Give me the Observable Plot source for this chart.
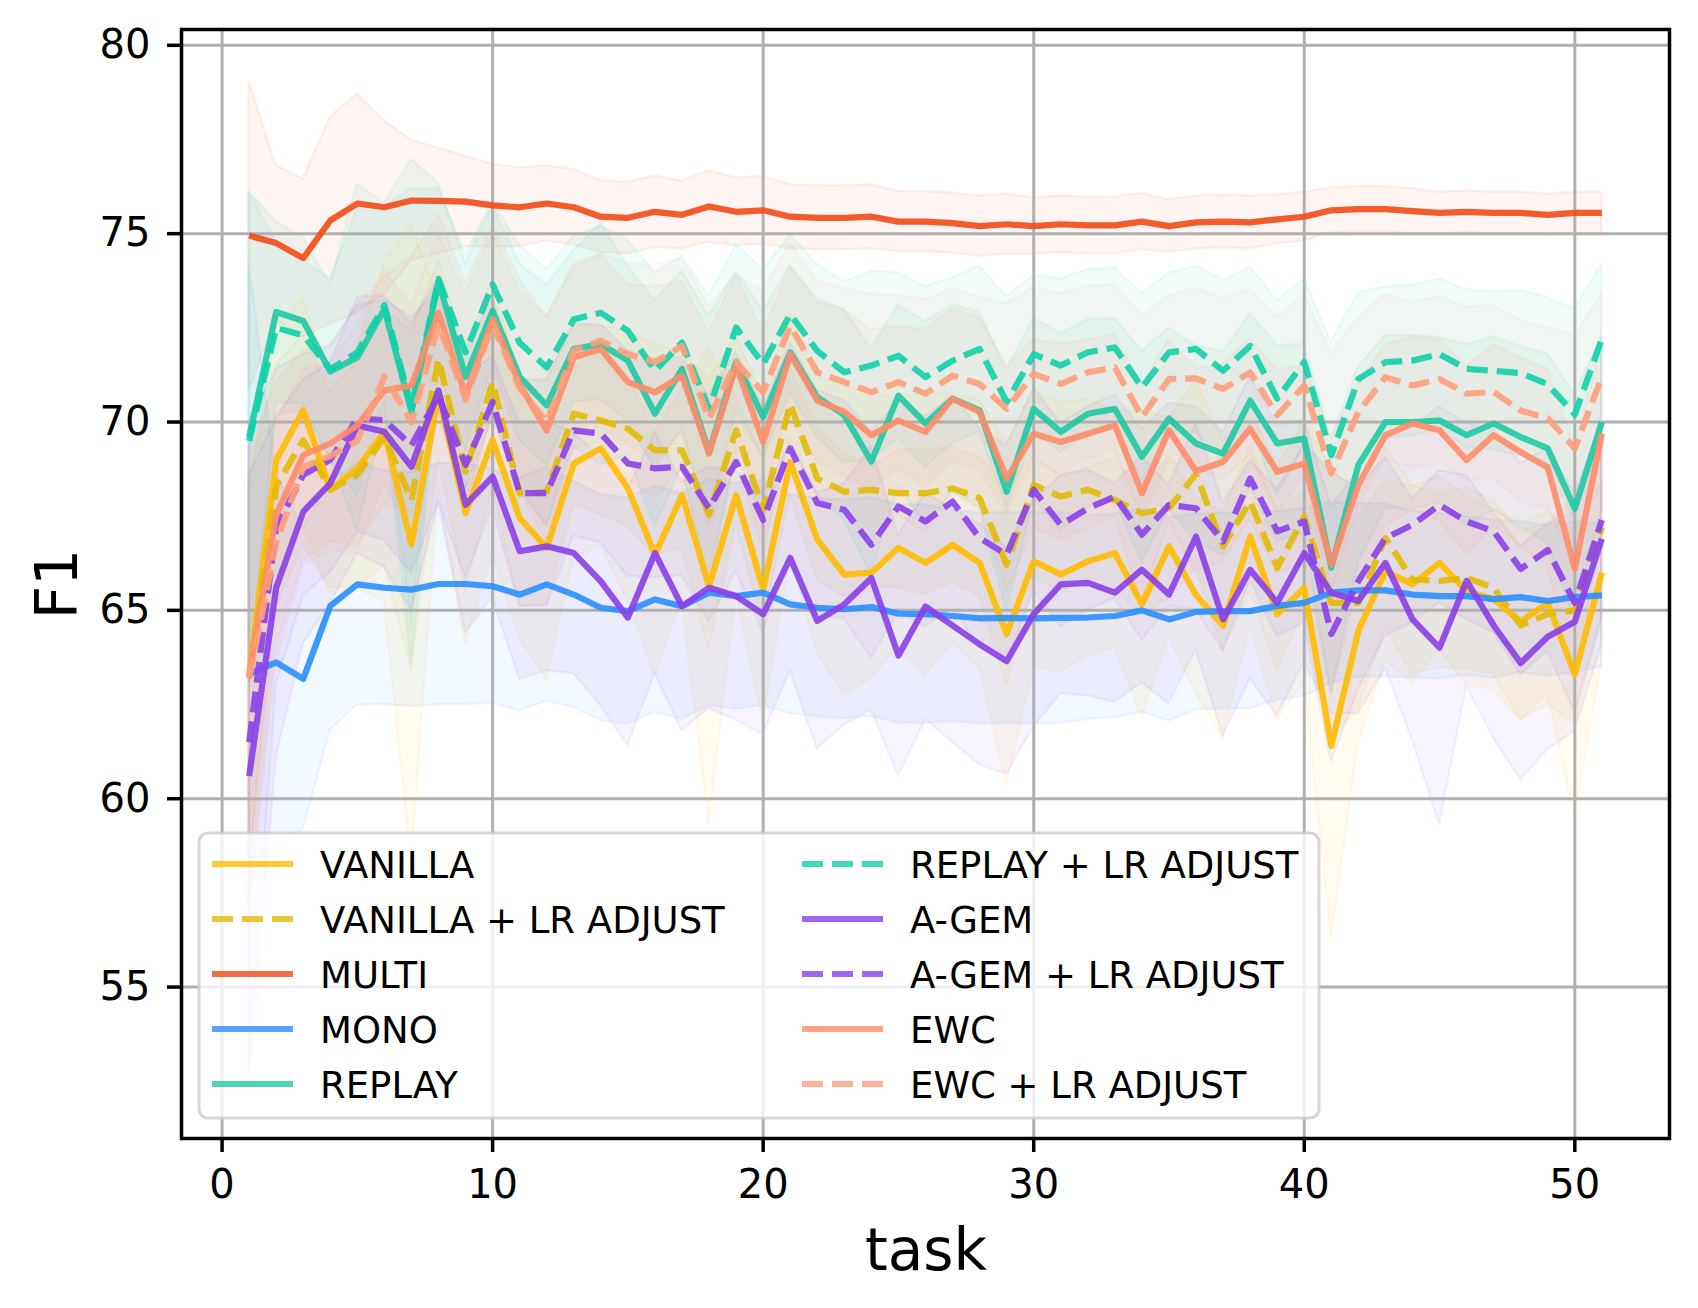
<!DOCTYPE html>
<html><head><meta charset="utf-8">
<script src="https://cdn.jsdelivr.net/npm/d3@7"></script>
<script src="https://cdn.jsdelivr.net/npm/@observablehq/plot@0.6"></script>
<style>
html,body{margin:0;padding:0;background:#fff;}
#chart{position:relative;width:1698px;height:1308px;}
</style></head><body><div id="chart"></div>
<script>
const tasks = [1,2,3,4,5,6,7,8,9,10,11,12,13,14,15,16,17,18,19,20,21,22,23,24,25,26,27,28,29,30,31,32,33,34,35,36,37,38,39,40,41,42,43,44,45,46,47,48,49,50,51];
const xTicks = [0,10,20,30,40,50];
const yTicks = [55,60,65,70,75,80];

const vanilla = [63.27,68.99,70.31,68.2,68.77,69.74,66.74,70.75,67.58,69.52,67.45,66.66,68.9,69.3,68.24,66.48,68.06,65.64,68.06,65.55,68.94,66.88,65.95,66.0,66.66,66.26,66.74,66.26,64.37,66.3,65.95,66.3,66.52,65.16,66.7,65.4,64.59,66.96,64.9,65.6,61.4,64.46,66.04,65.69,66.26,65.51,65.3,64.7,65.2,63.3,66.0];
const vanillaLr = [63.2,68.3,69.52,68.2,68.6,69.6,67.93,71.67,68.68,71.06,68.1,68.15,70.22,70.04,69.82,69.25,69.25,67.54,69.78,67.67,70.48,68.5,68.15,68.2,68.11,68.11,68.24,67.98,66.21,68.33,68.02,68.2,67.93,67.58,67.71,68.62,66.7,67.89,66.13,67.49,65.2,65.2,66.92,65.82,65.78,65.86,65.6,64.6,64.9,65.0,67.2];
const multi = [74.95,74.75,74.35,75.35,75.8,75.7,75.88,75.87,75.85,75.75,75.7,75.8,75.7,75.45,75.42,75.58,75.5,75.72,75.58,75.62,75.45,75.42,75.42,75.45,75.32,75.32,75.28,75.2,75.25,75.2,75.25,75.22,75.22,75.32,75.2,75.3,75.32,75.3,75.38,75.45,75.62,75.65,75.65,75.6,75.55,75.58,75.55,75.55,75.5,75.55,75.55];
const mono = [63.31,63.62,63.18,65.12,65.69,65.6,65.55,65.7,65.7,65.64,65.42,65.69,65.42,65.07,64.98,65.29,65.11,65.47,65.38,65.47,65.16,65.07,65.03,65.09,64.91,64.9,64.85,64.79,64.8,64.79,64.8,64.81,64.85,65.0,64.76,64.96,64.98,64.98,65.12,65.2,65.47,65.53,65.53,65.42,65.38,65.38,65.3,65.35,65.25,65.35,65.4];
const replay = [69.6,72.92,72.68,71.34,71.72,73.0,70.27,73.74,71.2,72.95,71.2,70.44,71.94,72.07,71.63,70.22,71.41,69.2,71.6,70.13,71.85,70.66,70.18,68.95,70.7,69.96,70.62,70.31,68.15,70.35,69.74,70.22,70.35,69.08,70.09,69.43,69.16,70.57,69.43,69.56,66.13,68.86,70.0,70.0,70.04,69.65,69.96,69.6,69.3,67.7,70.0];
const replayLr = [69.5,72.5,72.3,71.4,71.85,73.1,70.4,73.8,71.85,73.65,72.1,71.45,72.73,72.9,72.42,71.36,72.11,70.35,72.51,71.54,72.86,71.89,71.32,71.5,71.76,71.19,71.63,71.94,70.53,71.8,71.5,71.85,71.98,70.92,71.85,71.94,71.36,72.02,70.62,71.59,69.12,71.14,71.59,71.63,71.8,71.41,71.36,71.3,71.0,70.2,72.2];
const agem = [60.6,65.6,67.62,68.37,69.91,69.74,68.81,70.84,67.8,68.55,66.57,66.7,66.52,65.77,64.81,66.52,65.11,65.6,65.38,64.9,66.39,64.72,65.16,65.86,63.8,65.1,64.6,64.1,63.65,64.9,65.69,65.73,65.47,66.08,65.42,66.96,64.76,66.08,65.2,66.52,65.47,65.25,66.26,64.76,64.01,65.78,64.6,63.6,64.3,64.7,66.9];
const agemLr = [61.5,67.2,68.6,69.0,70.09,70.05,69.38,70.7,68.86,70.53,68.11,68.11,69.78,69.69,68.9,68.77,68.81,67.71,68.94,67.4,69.3,67.85,67.67,66.74,67.76,67.36,67.89,66.92,66.48,68.2,67.27,67.71,68.02,67.01,67.8,67.71,66.83,68.5,67.1,67.36,64.37,65.78,66.92,67.27,67.8,67.36,67.1,66.1,66.6,65.2,67.4];
const ewc = [63.27,67.53,69.12,69.43,69.91,70.84,70.97,72.9,70.7,72.73,71.0,69.78,71.72,71.94,71.06,70.79,71.23,69.16,71.5,69.47,71.8,70.57,70.27,69.65,70.04,69.74,70.62,70.27,68.5,69.69,69.47,69.69,69.91,68.11,69.78,68.7,68.94,69.82,68.68,68.9,66.21,68.33,69.65,69.96,69.78,68.99,69.65,69.2,68.8,66.1,69.7];
const ewcLr = [63.2,66.8,68.8,69.1,69.5,71.2,70.0,72.6,70.6,72.6,70.9,70.0,71.9,72.16,71.8,71.59,72.02,70.09,71.59,70.79,72.55,71.32,71.06,70.79,71.06,70.75,71.23,71.01,70.35,71.28,71.01,71.32,71.45,70.13,71.14,71.16,70.88,71.32,70.18,70.97,68.64,70.27,71.19,70.97,71.14,70.75,70.8,70.3,70.1,69.3,71.2];

// standard deviations (shaded bands)
const vanillaStd = [5.0,3.5,3.0,2.8,3.2,4.5,8.5,2.5,3.5,3.0,3.2,3.5,2.5,2.6,3.0,3.2,2.8,6.3,2.6,3.5,2.5,3.0,3.2,2.8,2.6,3.0,2.6,2.8,4.0,2.8,2.6,2.5,2.5,3.0,2.4,2.6,3.0,2.4,2.8,2.5,5.1,3.0,2.4,2.6,2.3,2.5,2.4,2.6,2.4,3.8,2.4];
const vanillaLrStd = [5.2,3.2,2.8,2.6,3.0,3.4,4.5,2.6,3.2,2.8,3.0,3.0,2.4,2.5,2.6,2.8,2.6,3.6,2.5,3.0,2.4,2.7,2.8,2.6,2.5,2.7,2.5,2.6,3.2,2.5,2.5,2.4,2.4,2.7,2.4,2.5,2.8,2.4,2.7,2.5,3.6,2.8,2.4,2.5,2.3,2.4,2.3,2.5,2.4,3.0,2.4];
const multiStd = [4.1,2.05,2.1,2.75,2.9,2.3,1.6,1.4,1.2,1.1,1.05,1.0,1.0,0.95,0.95,0.95,0.9,0.95,0.9,0.9,0.85,0.85,0.85,0.85,0.8,0.8,0.8,0.8,0.8,0.75,0.75,0.75,0.75,0.75,0.7,0.7,0.7,0.7,0.65,0.65,0.6,0.6,0.6,0.6,0.55,0.55,0.55,0.55,0.55,0.55,0.55];
const monoStd = [10.9,5.0,4.0,3.3,3.2,3.1,3.1,3.2,3.2,3.1,3.1,3.1,3.0,3.0,3.0,3.0,3.0,3.0,3.0,3.0,2.9,2.9,2.9,2.9,2.9,2.9,2.8,2.8,2.8,2.8,2.8,2.7,2.7,2.7,2.7,2.6,2.6,2.6,2.5,2.5,2.4,2.3,2.3,2.2,2.2,2.1,2.1,2.0,2.0,2.0,1.9];
const replayStd = [6.5,2.4,2.2,2.3,4.6,2.8,6.7,2.6,3.0,2.8,3.0,3.2,2.6,3.2,2.5,3.0,2.6,3.6,2.4,2.8,2.3,2.6,2.8,3.0,2.4,2.7,2.5,2.6,3.2,2.4,2.6,2.5,2.4,2.8,2.4,2.6,2.7,2.3,2.6,2.5,3.4,2.6,2.3,2.3,2.2,2.4,2.3,2.4,2.5,3.0,2.3];
const replayLrStd = [6.6,2.3,2.0,2.4,3.8,2.6,5.8,2.4,2.6,2.2,2.6,2.6,2.2,2.3,2.4,2.6,2.3,3.0,2.2,2.5,2.1,2.3,2.4,2.5,2.2,2.4,2.2,2.2,2.8,2.1,2.3,2.2,2.1,2.5,2.1,2.2,2.4,2.1,2.6,2.2,3.0,2.3,2.0,2.0,2.0,2.1,2.1,2.2,2.3,2.8,2.0];
const agemStd = [8.0,4.5,3.5,3.2,3.4,3.6,3.8,3.0,3.4,3.2,3.4,3.3,3.2,3.3,3.4,3.2,3.3,3.2,3.3,3.2,3.0,3.4,3.2,3.5,3.2,3.0,3.1,3.2,3.0,3.0,2.9,3.0,2.9,3.0,2.9,3.0,3.1,2.9,3.0,2.9,3.2,3.0,2.8,3.2,4.7,2.8,3.0,3.1,3.0,2.9,2.8];
const agemLrStd = [8.5,4.2,3.2,3.0,3.0,3.2,3.4,2.8,3.0,2.8,3.0,3.0,2.8,2.9,3.0,2.9,2.9,3.0,2.9,3.0,2.8,3.0,2.9,3.0,2.8,2.8,2.8,2.9,2.9,2.7,2.7,2.7,2.7,2.8,2.7,2.7,2.9,2.7,2.8,2.7,3.4,2.9,2.6,2.6,2.6,2.6,2.7,2.8,2.7,2.9,2.6];
const ewcStd = [6.0,3.5,2.8,2.6,3.2,3.0,3.4,2.6,3.0,2.5,2.8,3.0,2.4,2.5,2.6,2.8,2.5,3.2,2.4,2.9,2.3,2.6,2.7,2.8,2.5,2.7,2.4,2.5,3.0,2.5,2.6,2.5,2.4,2.9,2.4,2.7,2.6,2.4,2.7,2.6,3.4,2.7,2.4,2.3,2.4,2.5,2.4,2.5,2.6,3.2,2.4];
const ewcLrStd = [6.2,3.2,2.6,2.5,3.0,2.8,3.1,2.4,2.8,2.4,2.6,2.8,2.3,2.3,2.4,2.6,2.3,3.0,2.3,2.7,2.2,2.4,2.5,2.6,2.3,2.5,2.3,2.3,2.8,2.3,2.4,2.3,2.2,2.7,2.2,2.4,2.4,2.2,2.6,2.4,3.2,2.5,2.2,2.2,2.2,2.3,2.3,2.4,2.4,3.0,2.2];

const names = ["VANILLA","VANILLA + LR ADJUST","MULTI","MONO","REPLAY","REPLAY + LR ADJUST","A-GEM","A-GEM + LR ADJUST","EWC","EWC + LR ADJUST"];
const colors = ["#FFBB00","#E2BA06","#F24A16","#2A8EFF","#1ECAA2","#10D0A8","#8A3FE8","#8B40EA","#FF8C69","#FF9E7A"];
const dashed = [false,true,false,false,false,true,false,true,false,true];
const means = [vanilla,vanillaLr,multi,mono,replay,replayLr,agem,agemLr,ewc,ewcLr];
const stds = [vanillaStd,vanillaLrStd,multiStd,monoStd,replayStd,replayLrStd,agemStd,agemLrStd,ewcStd,ewcLrStd];

const seriesRows = names.map((name, k) => tasks.map((t, i) => ({
  name, task: t, mean: means[k][i], lo: means[k][i] - stds[k][i], hi: means[k][i] + stds[k][i]
})));

const bandMarks = seriesRows.map((rows, k) => Plot.areaY(rows, {
  x: "task", y1: "lo", y2: "hi", fill: colors[k], fillOpacity: 0.06,
  stroke: colors[k], strokeOpacity: 0.07, strokeWidth: 2.5
}));
const lineMarks = seriesRows.map((rows, k) => Plot.line(rows, {
  x: "task", y: "mean", stroke: colors[k], strokeWidth: 6.2, strokeOpacity: 0.9,
  strokeDasharray: dashed[k] ? "21,9" : null, strokeLinejoin: "round", strokeLinecap: "butt"
}));

const plot = Plot.plot({
  width: 1698, height: 1308,
  marginLeft: 181, marginRight: 29, marginTop: 29, marginBottom: 170,
  x: {domain: [-1.5, 53.5]},
  y: {domain: [50.98, 80.42]},
  style: {fontFamily: "DejaVu Sans", background: "white", color: "black", overflow: "visible"},
  marks: [
    ...bandMarks,
    Plot.gridX(xTicks, {stroke: "#b0b0b0", strokeOpacity: 1, strokeWidth: 3}),
    Plot.gridY(yTicks, {stroke: "#b0b0b0", strokeOpacity: 1, strokeWidth: 3}),
    ...lineMarks,
    Plot.frame({stroke: "black", strokeWidth: 3.5}),
    Plot.axisX(xTicks, {tickSize: 14, tickPadding: 17, fontSize: 40, strokeWidth: 3.5, label: null}),
    Plot.axisY(yTicks, {tickSize: 14, tickPadding: 17, fontSize: 40, strokeWidth: 3.5, label: null})
  ]
});

const svg = d3.select(plot);
// axis titles
svg.append("text").attr("x", 926).attr("y", 1270).attr("text-anchor", "middle")
  .attr("font-family", "DejaVu Sans").attr("font-size", 58).attr("fill", "black").text("task");
svg.append("text").attr("transform", "translate(77,584) rotate(-90)").attr("text-anchor", "middle")
  .attr("font-family", "DejaVu Sans").attr("font-size", 58).attr("fill", "black").text("F1");

// legend (2 columns, filled column-wise)
const lg = svg.append("g").attr("font-family", "DejaVu Sans").attr("font-size", 37).attr("text-anchor", "start");
lg.append("rect").attr("x", 199).attr("y", 833).attr("width", 1120).attr("height", 285).attr("rx", 9)
  .attr("fill", "white").attr("fill-opacity", 0.8).attr("stroke", "#cccccc").attr("stroke-opacity", 0.8).attr("stroke-width", 3);
names.forEach((name, k) => {
  const col = Math.floor(k / 5), row = k % 5;
  const x0 = col ? 802 : 212;
  const y = 864 + row * 55;
  lg.append("line").attr("x1", x0).attr("x2", x0 + 81).attr("y1", y).attr("y2", y)
    .attr("stroke", colors[k]).attr("stroke-opacity", 0.8).attr("stroke-width", 6.2)
    .attr("stroke-dasharray", dashed[k] ? "21,9" : null);
  lg.append("text").attr("x", x0 + 108).attr("y", y).attr("dy", "0.365em")
    .attr("text-anchor", "start").attr("fill", "black").text(name);
});

document.getElementById("chart").appendChild(plot);
</script>
</body></html>
